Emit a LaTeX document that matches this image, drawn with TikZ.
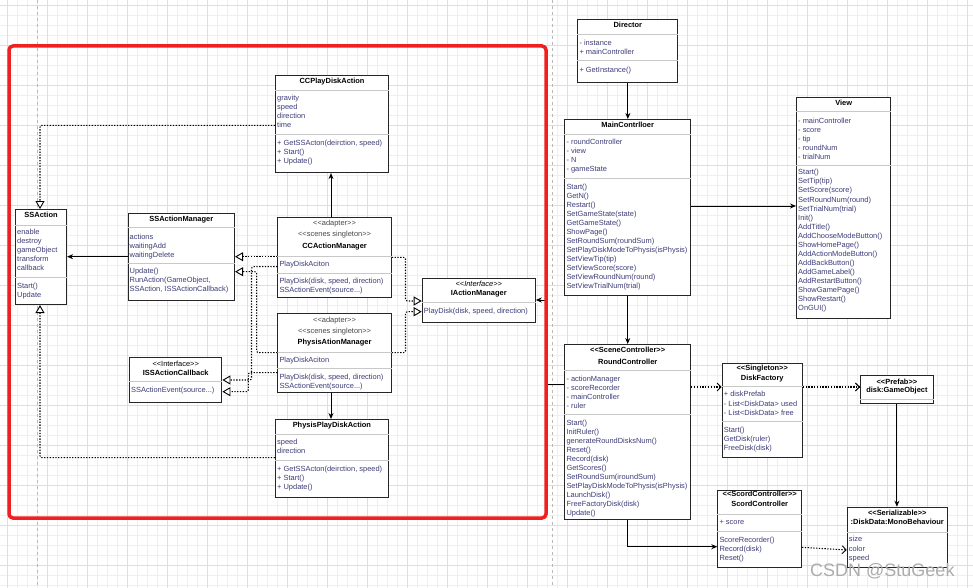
\documentclass[tikz,border=0pt]{standalone}
\usepackage{fontspec}
\setmainfont{Liberation Sans}
\usetikzlibrary{arrows.meta}
\definecolor{txtc}{RGB}{60,60,120}
\definecolor{stc}{RGB}{70,70,70}
\definecolor{sepc}{RGB}{200,200,200}
\definecolor{gminor}{RGB}{239,239,239}
\definecolor{gmajor}{RGB}{222,222,222}
\definecolor{redc}{RGB}{240,32,32}
\definecolor{wmc}{RGB}{172,172,172}
\definecolor{pagec}{RGB}{185,185,185}
\newcommand\umlL{<\kern0pt<}
\newcommand\umlR{>\kern0pt>}
\newcommand\tdots{...}
\tikzset{
  every node/.style={font=\fontsize{7.45}{9}\selectfont},
  clsbox/.style={draw=black!85, line width=1.1pt, fill=white, inner sep=0pt, anchor=north west},
  sepline/.style={draw=sepc, line width=0.8pt},
  txt/.style={anchor=west, inner sep=0pt, text=txtc, text height=6pt, text depth=1pt},
  ttl/.style={anchor=center, inner sep=0pt, text=black, font=\fontsize{7.45}{9}\selectfont\bfseries, text height=6pt, text depth=1pt},
  ster/.style={anchor=center, inner sep=0pt, text=stc, text height=6pt, text depth=1pt},
  bster/.style={ttl},
  assoc/.style={draw=black, line width=0.9pt, -{Stealth[length=6pt,width=5pt]}},
  realize/.style={draw=black, line width=1.05pt, dash pattern=on 1.3pt off 1.5pt, rounded corners=2pt, -{Triangle[open, length=8pt, width=9pt, fill=white, line width=0.9pt]}},
  depend/.style={draw=black, line width=1.05pt, dash pattern=on 1.3pt off 1.5pt, -{Straight Barb[length=4pt, width=8pt, line width=0.9pt]}},
}
\newcommand\cls[5]{\node[clsbox, minimum width=#4pt, minimum height=#5pt] (#1) at (#2,#3) {};}
\newcommand\sepl[2]{\draw[sepline] (#1.west |- 0,#2) -- (#1.east |- 0,#2);}
\newcommand\lns[5]{\foreach \lntx [count=\lni] in {#5} {\node[txt] (#1-\lni) at ({#2},{#3+(\lni-1)*#4}) {\lntx};}}
\begin{document}
\begin{tikzpicture}[x=1pt,y=-1pt]
\useasboundingbox (0,0) rectangle (973,588);
\fill[white] (0,0) rectangle (973,588);
% grid
\foreach \gx in {7,17,...,967} \draw[gminor, line width=0.5pt] (\gx,0) -- (\gx,588);
\foreach \gy in {5,15,...,585} \draw[gminor, line width=0.5pt] (0,\gy) -- (973,\gy);
\foreach \gx in {7,47,...,967} \draw[gmajor, line width=0.6pt] (\gx,0) -- (\gx,588);
\foreach \gy in {5,45,...,585} \draw[gmajor, line width=0.6pt] (0,\gy) -- (973,\gy);
\draw[pagec, dashed, line width=0.7pt] (37,0) -- (37,588);
\draw[pagec, dashed, line width=0.7pt] (552.5,0) -- (552.5,588);

% ---------- classes ----------
% SSAction
\cls{ssa}{15}{209}{51}{95}
\node[ttl] (ssa-t) at (ssa.north |- 0,214.5) {SSAction};
\sepl{ssa}{225}\sepl{ssa}{277}
\lns{ssa-a}{17}{232.3}{9}{enable,destroy,gameObject,transform,callback}
\lns{ssa-m}{17}{286}{9}{Start(),Update}

% SSActionManager
\cls{sam}{127.5}{213.3}{106.5}{86.7}
\node[ttl] (sam-t) at (sam.north |- 0,219) {SSActionManager};
\sepl{sam}{227.7}\sepl{sam}{263.3}
\lns{sam-a}{129.5}{236.7}{9}{actions,waitingAdd,waitingDelete}
\lns{sam-m}{129.5}{270.7}{9.1}{Update(),{RunAction(GameObject,},{SSAction, ISSActionCallback)}}

% CCPlayDiskAction
\cls{ccp}{275}{75}{113}{97}
\node[ttl] (ccp-t) at (ccp.north |- 0,81) {CCPlayDiskAction};
\sepl{ccp}{90.7}\sepl{ccp}{134.3}
\lns{ccp-a}{277}{98.3}{9}{gravity,speed,direction,time}
\lns{ccp-m}{277}{142.7}{9}{{+ GetSSActon(deirction, speed)},+ Start(),+ Update()}

% CCActionManager
\cls{cam}{277.3}{217.3}{113.4}{80}
\node[ster] (cam-s1) at (cam.north |- 0,222.5) {\umlL adapter\umlR};
\node[ster] (cam-s2) at (cam.north |- 0,234) {\umlL scenes singleton\umlR};
\node[ttl] (cam-t) at (cam.north |- 0,246) {CCActionManager};
\sepl{cam}{256.7}\sepl{cam}{273}
\lns{cam-a}{279.3}{263.5}{9}{PlayDiskAciton}
\lns{cam-m}{279.3}{281}{8.8}{{PlayDisk(disk, speed, direction)},{SSActionEvent(source\tdots)}}

% PhysisAtionManager
\cls{pam}{277.3}{313.3}{113.4}{78.4}
\node[ster] (pam-s1) at (pam.north |- 0,319.7) {\umlL adapter\umlR};
\node[ster] (pam-s2) at (pam.north |- 0,330.5) {\umlL scenes singleton\umlR};
\node[ttl] (pam-t) at (pam.north |- 0,342) {PhysisAtionManager};
\sepl{pam}{352.7}\sepl{pam}{368}
\lns{pam-a}{279.3}{359.5}{9}{PlayDiskAciton}
\lns{pam-m}{279.3}{376.7}{9}{{PlayDisk(disk, speed, direction)},{SSActionEvent(source\tdots)}}

% IActionManager
\cls{iam}{421.7}{277.7}{113}{44.6}
\node[ster, text=black, font=\fontsize{7.45}{9}\selectfont\itshape] (iam-s) at (iam.north |- 0,284.3) {\umlL Interface\umlR};
\node[ttl] (iam-t) at (iam.north |- 0,293.3) {IActionManager};
\sepl{iam}{302.3}
\lns{iam-m}{423.7}{310.7}{9}{{PlayDisk(disk, speed, direction)}}

% ISSActionCallback
\cls{iss}{129}{357.3}{92.3}{45}
\node[ster, text=black] (iss-s) at (iss.north |- 0,364) {\umlL Interface\umlR};
\node[ttl] (iss-t) at (iss.north |- 0,372.7) {ISSActionCallback};
\sepl{iss}{381.7}
\lns{iss-m}{131}{390}{9}{{SSActionEvent(source\tdots)}}

% PhysisPlayDiskAction
\cls{ppd}{275}{419}{112.7}{77.7}
\node[ttl] (ppd-t) at (ppd.north |- 0,425) {PhysisPlayDiskAction};
\sepl{ppd}{434.3}\sepl{ppd}{460}
\lns{ppd-a}{277}{442.3}{9}{speed,direction}
\lns{ppd-m}{277}{469.3}{9}{{+ GetSSActon(deirction, speed)},+ Start(),+ Update()}

% Director
\cls{dir}{577.3}{19}{100}{62.7}
\node[ttl] (dir-t) at (dir.north |- 0,25) {Director};
\sepl{dir}{34.3}\sepl{dir}{60.7}
\lns{dir-a}{579.3}{42.7}{9}{- instance,+ mainController}
\lns{dir-m}{579.3}{70}{9}{+ GetInstance()}

% MainContrlloer
\cls{mc}{564.3}{119}{125.7}{175.5}
\node[ttl] (mc-t) at (mc.north |- 0,125) {MainContrlloer};
\sepl{mc}{134}\sepl{mc}{178.3}
\lns{mc-a}{566.3}{142.3}{9}{- roundController,- view,- N,- gameState}
\lns{mc-m}{566.3}{187.3}{9}{Start(),GetN(),Restart(),SetGameState(state),GetGameState(),ShowPage(),SetRoundSum(roundSum),SetPlayDiskModeToPhysis(isPhysis),SetViewTip(tip),SetViewScore(score),SetViewRoundNum(round),SetViewTrialNum(trial)}

% View
\cls{view}{796}{96.7}{94.3}{221}
\node[ttl] (view-t) at (view.north |- 0,103.3) {View};
\sepl{view}{111.7}\sepl{view}{165}
\lns{view-a}{798}{120.7}{9}{- mainController,- score,- tip,- roundNum,- trialNum}
\lns{view-m}{798}{172.3}{9.07}{Start(),SetTip(tip),SetScore(score),SetRoundNum(round),SetTrialNum(trial),Init(),AddTitle(),AddChooseModeButton(),ShowHomePage(),AddActionModeButton(),AddBackButton(),AddGameLabel(),AddRestartButton(),ShowGamePage(),ShowRestart(),OnGUI()}

% RoundController
\cls{rc}{564.3}{344}{125.7}{175}
\node[bster] (rc-s) at (rc.north |- 0,350) {\umlL SceneController\umlR};
\node[ttl] (rc-t) at (rc.north |- 0,361.7) {RoundController};
\sepl{rc}{370.7}\sepl{rc}{414.3}
\lns{rc-a}{566.3}{379}{9}{- actionManager,- scoreRecorder,- mainController,- ruler}
\lns{rc-m}{566.3}{423.3}{9}{Start(),InitRuler(),generateRoundDisksNum(),Reset(),Record(disk),GetScores(),SetRoundSum(iroundSum),SetPlayDiskModeToPhysis(isPhysis),LaunchDisk(),FreeFactoryDisk(disk),Update()}

% DiskFactory
\cls{df}{721.7}{362.7}{80}{94.6}
\node[bster] (df-s) at (df.north |- 0,368.3) {\umlL Singleton\umlR};
\node[ttl] (df-t) at (df.north |- 0,377.7) {DiskFactory};
\sepl{df}{386.7}\sepl{df}{421.7}
\lns{df-a}{723.7}{394.3}{9.2}{+ diskPrefab,- List<DiskData> used,- List<DiskData> free}
\lns{df-m}{723.7}{430}{9.2}{Start(),GetDisk(ruler),FreeDisk(disk)}

% Prefab
\cls{pf}{860}{375}{72.7}{28.3}
\node[bster] (pf-s) at (pf.north |- 0,381.7) {\umlL Prefab\umlR};
\node[ttl] (pf-t) at (pf.north |- 0,390) {disk:GameObject};
\sepl{pf}{399}

% ScordController
\cls{sc}{717.3}{490}{83.7}{76.7}
\node[bster] (sc-s) at (sc.north |- 0,494.3) {\umlL ScordController\umlR};
\node[ttl] (sc-t) at (sc.north |- 0,504.3) {ScordController};
\sepl{sc}{514.3}\sepl{sc}{531}
\lns{sc-a}{719.3}{522.3}{9}{+ score}
\lns{sc-m}{719.3}{540.3}{9}{ScoreRecorder(),Record(disk),Reset()}

% DiskData
\cls{dd}{846.7}{506.7}{100}{60}
\node[bster] (dd-s) at (dd.north |- 0,513.3) {\umlL Serializable\umlR};
\node[ttl] (dd-t) at (dd.north |- 0,522.3) {:DiskData:MonoBehaviour};
\sepl{dd}{532.7}
\lns{dd-a}{848.7}{539.3}{9.2}{size,color,speed}

% ---------- connectors ----------
\draw[assoc] (sam.west |- 0,256.7) -- (ssa.east |- 0,256.7);
\draw[realize] (ccp.west |- 0,125.3) -| (ssa.north -| 40,0);
\draw[realize] (ppd.west |- 0,457.7) -| (ssa.south -| 40,0);
\draw[assoc] (cam.north -| 331,0) -- (ccp.south -| 331,0);
\draw[assoc] (pam.south -| 331,0) -- (ppd.north -| 331,0);
\draw[realize] (cam.west |- 0,256.7) -- (sam.east |- 0,256.7);
\draw[realize] (pam.west |- 0,352.7) -- (256.7,352.7) |- (sam.east |- 0,271.7);
\draw[realize] (cam.west |- 0,266.7) -- (251.5,266.7) |- (iss.east |- 0,380);
\draw[realize] (pam.west |- 0,372.7) -- (248.3,372.7) |- (iss.east |- 0,391.7);
\draw[realize] (cam.east |- 0,257.3) -- (405.5,257.3) |- (iam.west |- 0,301);
\draw[realize] (pam.east |- 0,352.7) -- (405.5,352.7) |- (iam.west |- 0,311.7);

\draw[assoc] (dir.south) -- (dir.south |- mc.north);
\draw[assoc] (mc.east |- 0,206) -- (view.west |- 0,206);
\draw[assoc] (mc.south) -- (mc.south |- rc.north);
\draw[depend] (rc.east |- 0,387) -- (df.west |- 0,387);
\draw[depend] (df.east |- 0,387) -- (pf.west |- 0,387);
\draw[assoc] (pf.south) -- (pf.south |- dd.north);
\draw[assoc] (rc.south) |- (sc.west |- 0,546.7);
\draw[depend] (sc.east |- 0,547.3) -- (dd.west |- 0,550);
\draw[assoc] (rc.west |- 0,384.3) -- (546,384.3) |- (iam.east |- 0,300);

% red frame
\draw[redc, line width=3.5pt, rounded corners=4pt] (9,46) rectangle (546,518);

% watermark
\node[anchor=base west, inner sep=0pt, text=wmc, font=\fontsize{18}{20}\selectfont] (wmk) at (810,576) {CSDN @StuGeek};
\end{tikzpicture}
\end{document}
